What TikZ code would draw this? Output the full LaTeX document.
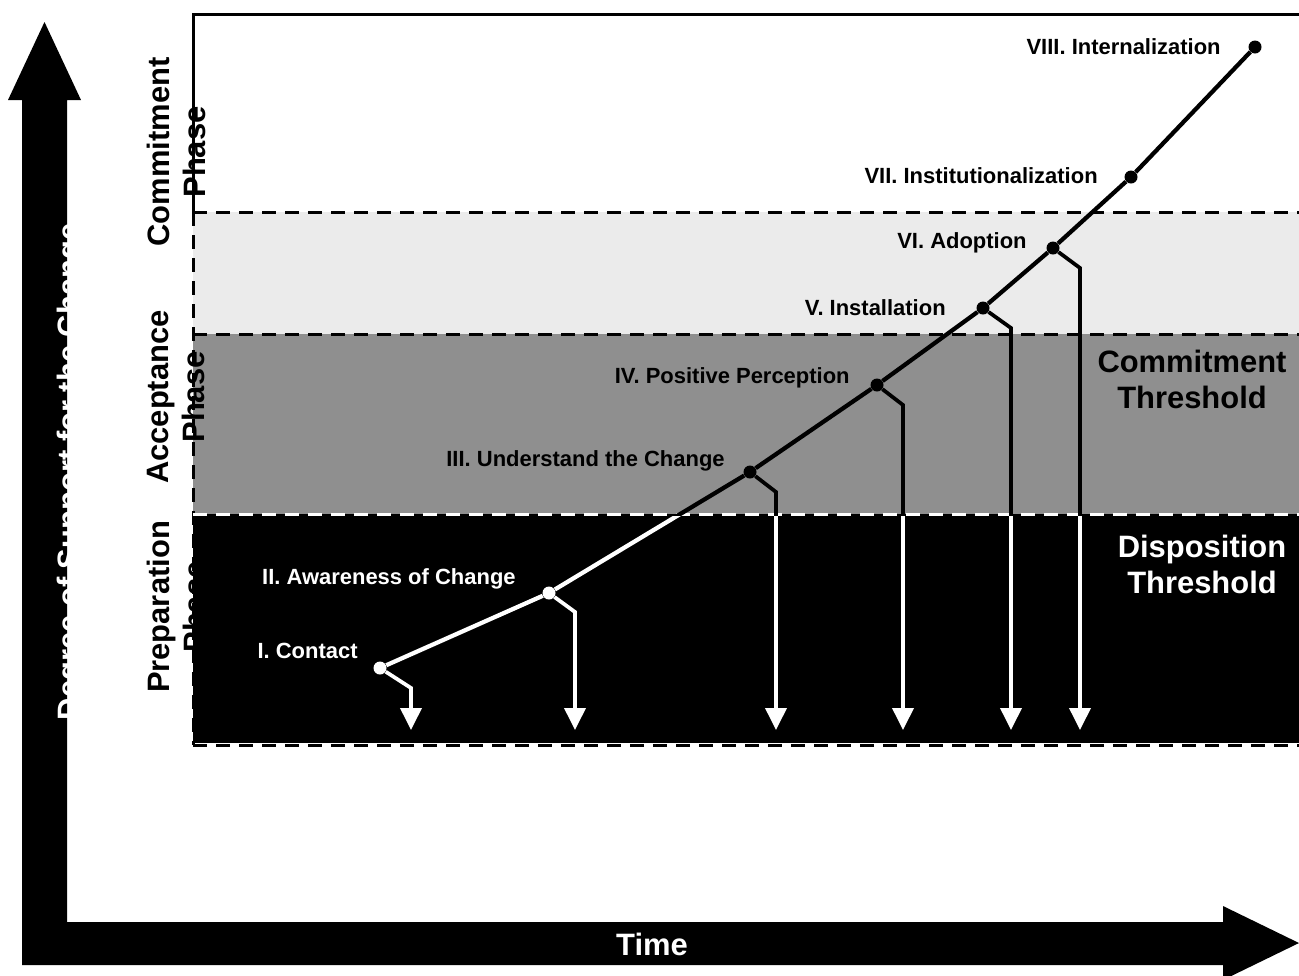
\documentclass[tikz,border=0pt]{standalone}
\usepackage{fontspec}
\setmainfont{Liberation Sans}
\usetikzlibrary{arrows.meta}

\definecolor{lightband}{gray}{0.92}
\definecolor{midband}{gray}{0.56}

\tikzset{
  stage/.style={font=\fontsize{12.5}{15}\selectfont\bfseries, inner sep=0pt, anchor=base east},
  phase/.style={font=\fontsize{17.6}{20.5}\selectfont\bfseries, rotate=90, align=center, inner sep=0pt},
  thresh/.style={font=\fontsize{17.6}{20.5}\selectfont\bfseries, align=center, inner sep=0pt},
  band/.style={dash pattern=on 2.8mm off 1.8mm, line width=0.6mm},
  trend/.style={line width=0.85mm},
  drop/.style={line width=0.75mm, -{Triangle[width=4.2mm,length=4.4mm]}},
}

\begin{document}
\begin{tikzpicture}[x=0.2mm, y=-0.2mm]
  \useasboundingbox (0,0) rectangle (1299,975);

  % bands
  \fill[lightband] (193,212) rectangle (1299,334);
  \fill[midband]   (193,334) rectangle (1299,514);
  \fill[black]     (193,514) rectangle (1299,743);

  \draw[line width=0.6mm] (193,212) -- (193,14) -- (1299,14);
  \draw[band] (193,212) -- (1299,212);
  \draw[band] (193,334) -- (1299,334);
  \draw[band] (193,212) -- (193,745);
  \draw[band] (193,745) -- (1299,745);
  \draw[band, white] (193,514) -- (1299,514);

  % axes
  \fill (22,965) -- (22,100) -- (8,100) -- (44.5,22) -- (81,100) -- (67,100)
    -- (67,922) -- (1223,922) -- (1223,906) -- (1299,943) -- (1223,980)
    -- (1223,965) -- cycle;
  \begin{scope}
    \clip (22,100) rectangle (67,965);
    \node[white, font=\fontsize{17.6}{20.5}\selectfont\bfseries, rotate=90, anchor=base]
      (ylab) at (79,472) {Degree of Support for the Change};
  \end{scope}
  \node[white, font=\fontsize{17.6}{20.5}\selectfont\bfseries, anchor=base]
    (xlab) at (652,955) {Time};

  % stages
  \begin{scope}[every node/.style={circle, fill, inner sep=0pt, minimum size=2.6mm}]
    \node[fill=white] (p1) at (380,668)  {};
    \node[fill=white] (p2) at (549,593)  {};
    \node (p3) at (750,472)  {};
    \node (p4) at (877,385)  {};
    \node (p5) at (983,308)  {};
    \node (p6) at (1053,248) {};
    \node (p7) at (1131,177) {};
    \node (p8) at (1255,47)  {};
  \end{scope}

  \coordinate (b1) at (411,688);  \coordinate (e1) at (411,730);
  \coordinate (b2) at (575,612);  \coordinate (e2) at (575,730);
  \coordinate (b3) at (776,492);  \coordinate (e3) at (776,730);
  \coordinate (b4) at (903,405);  \coordinate (e4) at (903,730);
  \coordinate (b5) at (1011,328); \coordinate (e5) at (1011,730);
  \coordinate (b6) at (1080,268); \coordinate (e6) at (1080,730);

  \draw[trend] (p1) -- (p2) -- (p3) -- (p4) -- (p5) -- (p6) -- (p7) -- (p8);
  \draw[drop] (p1) -- (b1) -- (e1);
  \draw[drop] (p2) -- (b2) -- (e2);
  \draw[drop] (p3) -- (b3) -- (e3);
  \draw[drop] (p4) -- (b4) -- (e4);
  \draw[drop] (p5) -- (b5) -- (e5);
  \draw[drop] (p6) -- (b6) -- (e6);

  % white where it runs over the black band
  \begin{scope}
    \clip (193,516) rectangle (1299,743);
    \draw[trend, white] (p1) -- (p2) -- (p3);
    \draw[drop, white] (p1) -- (b1) -- (e1);
    \draw[drop, white] (p2) -- (b2) -- (e2);
    \draw[drop, white] (p3) -- (b3) -- (e3);
    \draw[drop, white] (p4) -- (b4) -- (e4);
    \draw[drop, white] (p5) -- (b5) -- (e5);
    \draw[drop, white] (p6) -- (b6) -- (e6);
  \end{scope}

  \node[stage] (l8) at (1221,54)  {VIII. Internalization};
  \node[stage] (l7) at (1098,183) {VII. Institutionalization};
  \node[stage] (l6) at (1027,248) {VI. Adoption};
  \node[stage] (l5) at (946,315)  {V. Installation};
  \node[stage] (l4) at (850,383)  {IV. Positive Perception};
  \node[stage] (l3) at (725,466)  {III. Understand the Change};
  \node[stage, white] (l2) at (516,584) {II. Awareness of Change};
  \node[stage, white] (l1) at (358,658) {I. Contact};

  % phases and thresholds
  \node[phase] (commit)  at (176,152) {Commitment\\Phase};
  \node[phase] (accept)  at (176,397) {Acceptance\\Phase};
  \node[phase] (prepare) at (176,607) {Preparation\\Phase};

  \node[thresh] (cthresh) at (1192,379) {Commitment\\Threshold};
  \node[thresh, white] (dthresh) at (1202,564) {Disposition\\Threshold};
\end{tikzpicture}
\end{document}
